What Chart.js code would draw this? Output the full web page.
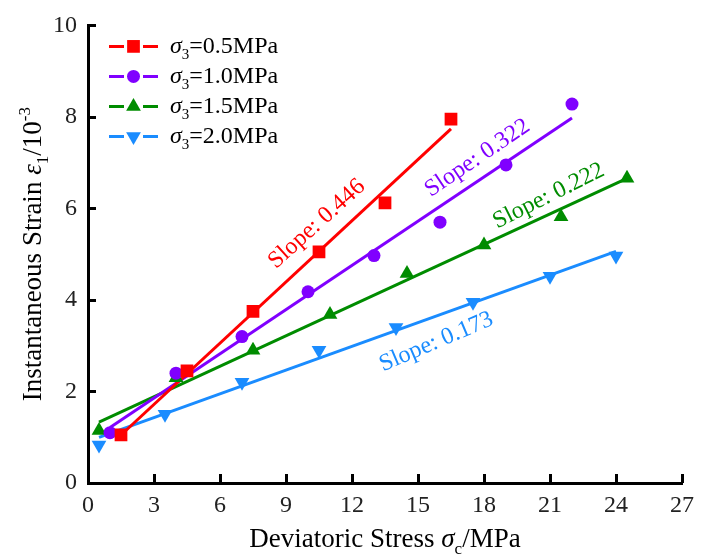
<!DOCTYPE html>
<html>
<head>
<meta charset="utf-8">
<style>
  html, body { margin: 0; padding: 0; background: #fff; }
</style>
</head>
<body>
<canvas id="strainChart" width="702" height="556"></canvas>
<script src="https://cdn.jsdelivr.net/npm/chart.js"></script>
<script>
// confining pressure of each test group (MPa)
var confining = ['0.5', '1.0', '1.5', '2.0'];

// deviatoric stress (MPa) and instantaneous strain (10^-3) per group
var stress05 = [1.5, 4.5, 7.5, 10.5, 13.5, 16.5];
var strain05 = [1.05, 2.45, 3.75, 5.05, 6.12, 7.95];

var stress10 = [1, 4, 7, 10, 13, 16, 19, 22];
var strain10 = [1.1, 2.4, 3.2, 4.18, 4.97, 5.7, 6.95, 8.28];

var stress15 = [0.5, 4, 7.5, 11, 14.5, 18, 21.5, 24.5];
var strain15 = [1.15, 2.3, 2.9, 3.68, 4.58, 5.2, 5.82, 6.66];

var stress20 = [0.5, 3.5, 7, 10.5, 14, 17.5, 21, 24];
var strain20 = [0.83, 1.5, 2.2, 2.9, 3.4, 3.95, 4.52, 4.96];

// linear fits
var slopes = [0.446, 0.322, 0.222, 0.173];
var intercepts = [0.38, 0.89, 1.22, 0.91];
var fitFrom = [1.5, 1, 0.5, 0.5];
var fitTo = [16.5, 22, 24.5, 24];

var xTicks = [0, 3, 6, 9, 12, 15, 18, 21, 24, 27];
var yTicks = [0, 2, 4, 6, 8, 10];

var serif = "'Times New Roman', 'Liberation Serif', serif";

var groups = [
  { xs: stress05, ys: strain05, color: '#ff0000', style: 'rect', radius: 9, rotation: 0 },
  { xs: stress10, ys: strain10, color: '#8000ff', style: 'circle', radius: 6.5, rotation: 0 },
  { xs: stress15, ys: strain15, color: '#008c00', style: 'triangle', radius: 8.5, rotation: 0 },
  { xs: stress20, ys: strain20, color: '#1a8cff', style: 'triangle', radius: 8.5, rotation: 180 }
];

// where each slope note sits (data units) and its tilt in degrees
var slopeNotes = [
  { x: 10.4, y: 5.66, angle: 42 },
  { x: 17.7, y: 7.1, angle: 34 },
  { x: 20.94, y: 6.27, angle: 26.5 },
  { x: 15.83, y: 3.08, angle: 23 }
];

var datasets = [];
groups.forEach(function (g, i) {
  datasets.push({
    type: 'scatter',
    label: 'σ3=' + confining[i] + 'MPa',
    data: g.xs.map(function (x, k) { return { x: x, y: g.ys[k] }; }),
    pointStyle: g.style,
    pointRotation: g.rotation,
    pointRadius: g.radius,
    pointBackgroundColor: g.color,
    pointBorderColor: g.color,
    pointBorderWidth: 0,
    showLine: false,
    order: 1
  });
  datasets.push({
    type: 'line',
    label: 'fit ' + confining[i],
    data: [
      { x: fitFrom[i], y: slopes[i] * fitFrom[i] + intercepts[i] },
      { x: fitTo[i], y: slopes[i] * fitTo[i] + intercepts[i] }
    ],
    borderColor: g.color,
    borderWidth: 3,
    pointRadius: 0,
    fill: false,
    order: 2
  });
});

// text made of pieces (italic / sub / sup), measured then drawn from x on baseline y
function richWidth(ctx, runs, size) {
  var w = 0;
  runs.forEach(function (r) {
    var s = (r.sub || r.sup) ? Math.round(size * 0.62) : size;
    ctx.font = (r.it ? 'italic ' : '') + s + 'px ' + serif;
    w += ctx.measureText(r.t).width;
  });
  return w;
}
function drawRich(ctx, runs, x, y, size) {
  ctx.textAlign = 'left';
  ctx.textBaseline = 'alphabetic';
  runs.forEach(function (r) {
    var s = (r.sub || r.sup) ? Math.round(size * 0.62) : size;
    ctx.font = (r.it ? 'italic ' : '') + s + 'px ' + serif;
    var dy = r.sub ? size * 0.25 : (r.sup ? -size * 0.4 : 0);
    ctx.fillText(r.t, x, y + dy);
    x += ctx.measureText(r.t).width;
  });
}

var decorations = {
  id: 'decorations',
  afterDraw: function (chart) {
    var ctx = chart.ctx;
    var area = chart.chartArea;
    var xs = chart.scales.x, ys = chart.scales.y;
    ctx.save();

    // inward tick marks
    ctx.strokeStyle = '#000';
    ctx.lineWidth = 3;
    ctx.beginPath();
    xTicks.forEach(function (v) {
      if (v === 0) return;
      var px = Math.round(xs.getPixelForValue(v)) + 0.5;
      ctx.moveTo(px, area.bottom);
      ctx.lineTo(px, area.bottom - 9);
    });
    yTicks.forEach(function (v) {
      if (v === 0) return;
      var py = Math.round(ys.getPixelForValue(v)) + 0.5;
      ctx.moveTo(area.left, py);
      ctx.lineTo(area.left + 8, py);
    });
    ctx.stroke();

    // slope notes
    slopeNotes.forEach(function (n, i) {
      ctx.save();
      ctx.translate(xs.getPixelForValue(n.x), ys.getPixelForValue(n.y));
      ctx.rotate(-n.angle * Math.PI / 180);
      ctx.fillStyle = groups[i].color;
      ctx.font = '24px ' + serif;
      ctx.textAlign = 'center';
      ctx.textBaseline = 'middle';
      ctx.fillText('Slope: ' + slopes[i].toFixed(3), 0, 0);
      ctx.restore();
    });

    // legend
    groups.forEach(function (g, i) {
      var y = area.top + 21 + i * 30;
      var x0 = area.left + 21;
      ctx.strokeStyle = g.color;
      ctx.lineWidth = 3;
      ctx.beginPath();
      ctx.moveTo(x0, y); ctx.lineTo(x0 + 15, y);
      ctx.moveTo(x0 + 34, y); ctx.lineTo(x0 + 49, y);
      ctx.stroke();
      ctx.fillStyle = g.color;
      Chart.helpers.drawPoint(ctx, {
        pointStyle: g.style, rotation: g.rotation, radius: g.radius, borderWidth: 0
      }, x0 + 24.5, y);
      ctx.fillStyle = '#000';
      drawRich(ctx, [
        { t: 'σ', it: true }, { t: '3', sub: true }, { t: '=' + confining[i] + 'MPa' }
      ], x0 + 61, y + 7, 24);
    });

    // axis titles
    ctx.fillStyle = '#000';
    var xRuns = [{ t: 'Deviatoric Stress ' }, { t: 'σ', it: true }, { t: 'c', sub: true }, { t: '/MPa' }];
    var xw = richWidth(ctx, xRuns, 27);
    drawRich(ctx, xRuns, (area.left + area.right) / 2 - xw / 2, 547, 27);

    var yRuns = [{ t: 'Instantaneous Strain ' }, { t: 'ε', it: true }, { t: '1', sub: true },
                 { t: '/10' }, { t: '-3', sup: true }];
    var yw = richWidth(ctx, yRuns, 27);
    ctx.translate(41, (area.top + area.bottom) / 2);
    ctx.rotate(-Math.PI / 2);
    drawRich(ctx, yRuns, -yw / 2, 0, 27);

    ctx.restore();
  }
};

new Chart(document.getElementById('strainChart'), {
  data: { datasets: datasets },
  options: {
    responsive: false,
    animation: false,
    layout: { padding: { top: 25, right: 12, left: 0, bottom: 0 } },
    plugins: { legend: { display: false }, tooltip: { enabled: false } },
    scales: {
      x: {
        type: 'linear', min: 0, max: 27,
        afterFit: function (s) { s.height = 73; },
        afterBuildTicks: function (s) { s.ticks = xTicks.map(function (v) { return { value: v }; }); },
        ticks: { color: '#222', padding: 8, font: { family: serif, size: 24 } },
        grid: { display: false, drawTicks: false },
        border: { display: true, color: '#000', width: 3 }
      },
      y: {
        type: 'linear', min: 0, max: 10,
        afterFit: function (s) { s.width = 88; },
        afterBuildTicks: function (s) { s.ticks = yTicks.map(function (v) { return { value: v }; }); },
        ticks: { color: '#222', padding: 11, font: { family: serif, size: 24 } },
        grid: { display: false, drawTicks: false },
        border: { display: true, color: '#000', width: 3 }
      }
    }
  },
  plugins: [decorations]
});
</script>
</body>
</html>
